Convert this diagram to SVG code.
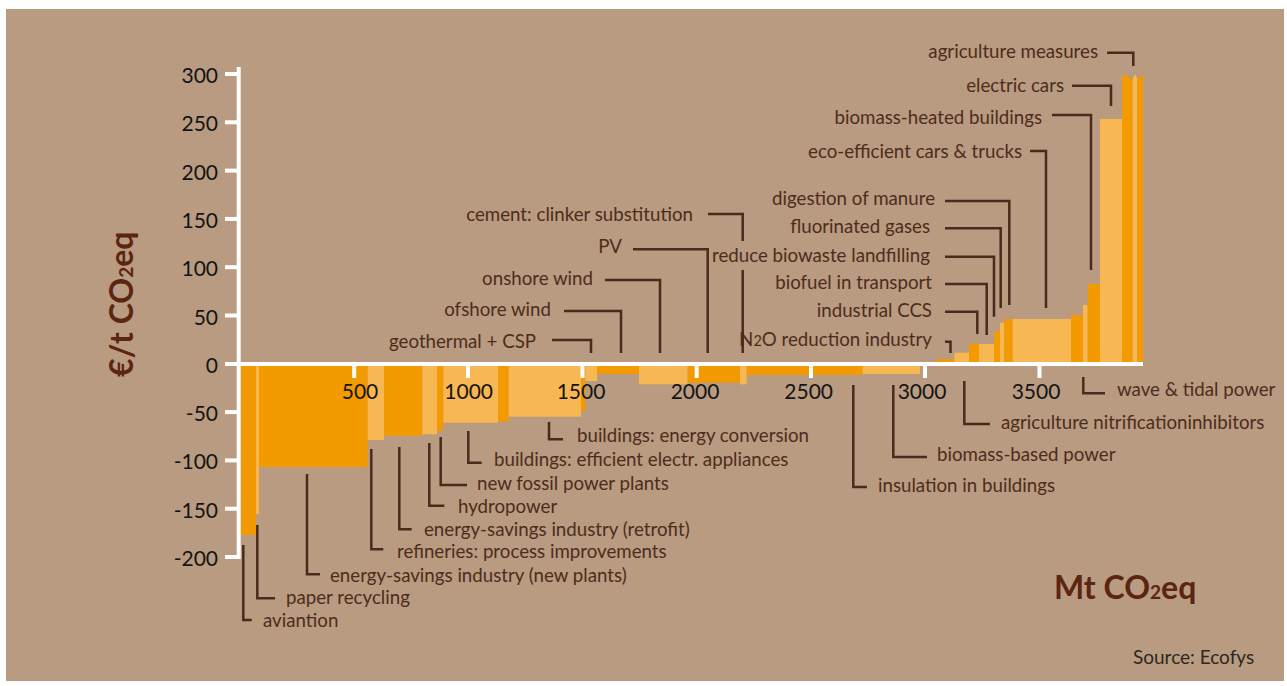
<svg xmlns="http://www.w3.org/2000/svg" width="1287" height="686" viewBox="0 0 1287 686">
<style>
.bg{fill:#b89b80}
.d{fill:#f29a00}
.l{fill:#f7b753}
.ax{stroke:#ffffff;stroke-width:4;fill:none}
.tk{fill:#ffffff}
.num{font-family:Lato,"Open Sans",sans-serif;font-size:21px;fill:#141414}
.lab{font-family:Lato,"Open Sans",sans-serif;font-size:18.7px;fill:#4e2c1c}
.ld{stroke:#4a2a1c;stroke-width:2.5;fill:none}
.ttl{font-family:Lato,"Open Sans",sans-serif;font-size:32px;font-weight:bold;fill:#5b2511}
.src{font-family:Lato,"Open Sans",sans-serif;font-size:19px;fill:#2e2620}
</style>
<rect class="bg" x="6" y="9" width="1278" height="672"/>
<g id="bars">
<rect class="d" x="240.7" y="364" width="15.3" height="171"/>
<rect class="l" x="256" y="364" width="3" height="150"/>
<rect class="d" x="259" y="364" width="108.7" height="103"/>
<rect class="l" x="367.7" y="364" width="16.3" height="76"/>
<rect class="d" x="384" y="364" width="38.3" height="71.7"/>
<rect class="l" x="422.3" y="364" width="14.7" height="70.3"/>
<rect class="d" x="437" y="364" width="6.3" height="66.7"/>
<rect class="l" x="443.3" y="364" width="55" height="58.7"/>
<rect class="d" x="498.3" y="364" width="10.4" height="57.7"/>
<rect class="l" x="508.7" y="364" width="72.3" height="52.7"/>
<rect class="d" x="581" y="364" width="4.3" height="47"/>
<rect class="l" x="585.3" y="364" width="11.7" height="17"/>
<rect class="d" x="597" y="364" width="42" height="10"/>
<rect class="l" x="639" y="364" width="48.7" height="20.3"/>
<rect class="d" x="687.7" y="364" width="52.3" height="18.7"/>
<rect class="l" x="740" y="364" width="6.7" height="20.3"/>
<rect class="d" x="746.7" y="364" width="116" height="11"/>
<rect class="l" x="862.7" y="364" width="57.3" height="10"/>
<rect class="d" x="936" y="359.3" width="18.3" height="4.7"/>
<rect class="l" x="954.3" y="352.7" width="14.7" height="11.3"/>
<rect class="d" x="969" y="344" width="10" height="20"/>
<rect class="l" x="979" y="344" width="15" height="20"/>
<rect class="d" x="994" y="331.3" width="6" height="32.7"/>
<rect class="l" x="1000" y="322.7" width="4.3" height="41.3"/>
<rect class="d" x="1004.3" y="319" width="8.4" height="45"/>
<rect class="l" x="1012.7" y="319" width="58.3" height="45"/>
<rect class="d" x="1071" y="315" width="12" height="49"/>
<rect class="l" x="1083" y="305" width="4.7" height="59"/>
<rect class="d" x="1087.7" y="284" width="12.3" height="80"/>
<rect class="l" x="1100" y="119" width="22" height="245"/>
<polygon class="d" points="1122,74.3 1132.7,79 1132.7,364 1122,364"/>
<polygon class="l" points="1132.7,78.5 1135.3,74.3 1137.3,78.5 1137.3,364 1132.7,364"/>
<polygon class="d" points="1137.3,79 1143,74.3 1143,364 1137.3,364"/>
</g>
<g id="axes">
<line class="ax" x1="238.7" y1="67" x2="238.7" y2="559"/>
<line class="ax" x1="225" y1="364" x2="1143" y2="364"/>
<g class="tk">
<rect x="225" y="72" width="14" height="4"/>
<rect x="225" y="120.3" width="14" height="4"/>
<rect x="225" y="168.6" width="14" height="4"/>
<rect x="225" y="216.9" width="14" height="4"/>
<rect x="225" y="265.2" width="14" height="4"/>
<rect x="225" y="313.5" width="14" height="4"/>
<rect x="225" y="410.1" width="14" height="4"/>
<rect x="225" y="458.4" width="14" height="4"/>
<rect x="225" y="506.7" width="14" height="4"/>
<rect x="225" y="555" width="14" height="4"/>
<rect x="352.2" y="364" width="4" height="14"/>
<rect x="466" y="364" width="4" height="14"/>
<rect x="580.5" y="364" width="4" height="14"/>
<rect x="694.7" y="364" width="4" height="14"/>
<rect x="809" y="364" width="4" height="14"/>
<rect x="923" y="364" width="4" height="14"/>
<rect x="1037.5" y="364" width="4" height="14"/>
</g>
<g class="num" text-anchor="end">
<text x="218" y="83">300</text>
<text x="218" y="131.3">250</text>
<text x="218" y="179.6">200</text>
<text x="218" y="227.9">150</text>
<text x="218" y="276.2">100</text>
<text x="218" y="324.5">50</text>
<text x="218" y="372.8">0</text>
<text x="218" y="421.1">-50</text>
<text x="218" y="469.4">-100</text>
<text x="218" y="517.7">-150</text>
<text x="218" y="566">-200</text>
</g>
<g class="num" text-anchor="middle">
<text x="360" y="399">500</text>
<text x="468.7" y="399">1000</text>
<text x="581" y="399">1500</text>
<text x="695" y="399">2000</text>
<text x="808.7" y="399">2500</text>
<text x="922" y="399">3000</text>
<text x="1036" y="399">3500</text>
</g>
<text class="ttl" transform="translate(133,377) rotate(-90)">€/t CO<tspan font-size="19">2</tspan>eq</text>
<text class="ttl" x="1054" y="599">Mt CO<tspan font-size="19">2</tspan>eq</text>
</g>
<g id="connectors" class="ld">
<path d="M708,214 H742.7 V241 M742.7,270 V353"/>
<path d="M633,249.3 H707.7 V353"/>
<path d="M605,280 H660 V353"/>
<path d="M564,311 H621 V353"/>
<path d="M552,340 H591 V353"/>
<path d="M945,201 H1009.3 V305"/>
<path d="M945,228.3 H1000.7 V308"/>
<path d="M945,256.7 H994 V316.7"/>
<path d="M945,284 H986.7 V335"/>
<path d="M945,311.7 H977.3 V334"/>
<path d="M945,341.7 H950.5 V353"/>
<path d="M1030,151 H1046 V308"/>
<path d="M1052,115 H1091 V270"/>
<path d="M1072,85.7 H1111 V106"/>
<path d="M1107,52.7 H1133.3 V66"/>
<path d="M1083.3,377 V393.3 H1105"/>
<path d="M964.3,381 V424 H990"/>
<path d="M893.3,385 V457 H927"/>
<path d="M853.3,385 V487 H867"/>
<path d="M549,422 V439.3 H563"/>
<path d="M468.3,431 V462.7 H481.7"/>
<path d="M440.7,437 V485 H467"/>
<path d="M429.3,443 V505.7 H444.3"/>
<path d="M399.3,447 V529.3 H411.7"/>
<path d="M371.3,449 V549.3 H383.3"/>
<path d="M307,474 V574.3 H320"/>
<path d="M257.3,525 V598.3 H275"/>
<path d="M243.3,545 V620 H251.7"/>
</g>
<g id="labels-above" class="lab" text-anchor="end">
<text id="n-cement" x="693" y="221">cement: clinker substitution</text>
<text id="n-pv" x="622" y="253">PV</text>
<text id="n-onshore" x="593" y="285">onshore wind</text>
<text id="n-ofshore" x="551" y="316">ofshore wind</text>
<text id="n-geo" x="536" y="348">geothermal + CSP</text>
<text id="n-digestion" x="935" y="205">digestion of manure</text>
<text id="n-fluor" x="930" y="233">fluorinated gases</text>
<text id="n-biowaste" x="930" y="262">reduce biowaste landfilling</text>
<text id="n-biofuel" x="932" y="289">biofuel in transport</text>
<text id="n-ccs" x="932" y="317">industrial CCS</text>
<text id="n-n2o" x="932" y="346">N<tspan font-size="14.5">2</tspan>O reduction industry</text>
<text id="n-agrimeas" x="1098" y="58">agriculture measures</text>
<text id="n-ecars" x="1064" y="92">electric cars</text>
<text id="n-bioheat" x="1042" y="124">biomass-heated buildings</text>
<text id="n-ecoeff" x="1022" y="158">eco-efficient cars &amp; trucks</text>
</g>
<g id="labels-below" class="lab">
<text id="n-conv" x="577" y="442">buildings: energy conversion</text>
<text id="n-appl" x="494" y="466">buildings: efficient electr. appliances</text>
<text id="n-fossil" x="477" y="490">new fossil power plants</text>
<text id="n-hydro" x="458" y="513">hydropower</text>
<text id="n-retro" x="424" y="536">energy-savings industry (retrofit)</text>
<text id="n-refin" x="397" y="558">refineries: process improvements</text>
<text id="n-newpl" x="330" y="582">energy-savings industry (new plants)</text>
<text id="n-paper" x="286" y="604">paper recycling</text>
<text id="n-avi" x="263" y="627">aviantion</text>
<text id="n-insul" x="878" y="492">insulation in buildings</text>
<text id="n-biopow" x="937" y="461">biomass-based power</text>
<text id="n-nitri" x="1001" y="429">agriculture nitrificationinhibitors</text>
<text id="n-wave" x="1117" y="396">wave &amp; tidal power</text>
</g>
<text class="src" x="1133" y="664">Source: Ecofys</text>
</svg>
